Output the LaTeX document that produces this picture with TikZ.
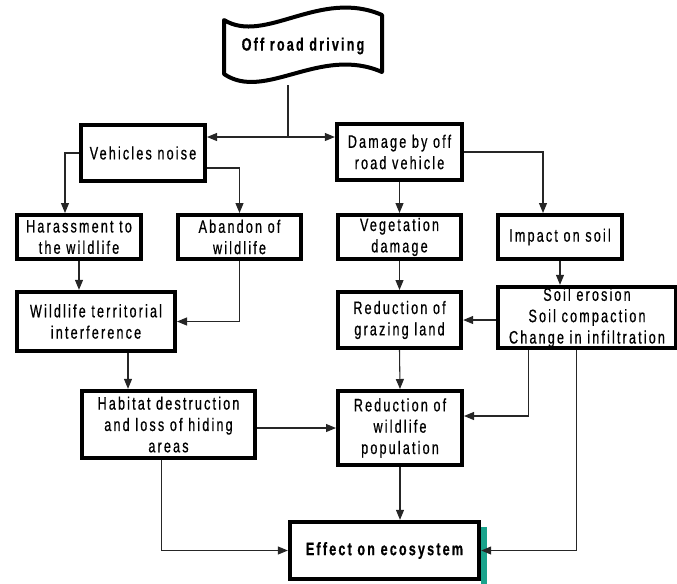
\documentclass[tikz,border=0pt]{standalone}
\usepackage{fontspec}
\setmainfont[FakeStretch=0.7,LetterSpace=12,FakeBold=0.6]{Liberation Sans}
\usepackage{xcolor}
\usepackage{tikz}
\usetikzlibrary{arrows.meta}

\definecolor{shadowteal}{HTML}{1AA38C}

\begin{document}
\begin{tikzpicture}[x=0.75pt,y=-0.75pt,
    box/.style={draw,line width=3pt,align=center,inner sep=0pt,
                font=\fontsize{13.5pt}{16pt}\selectfont},
    link/.style={black!85,line width=0.8pt}]
\useasboundingbox (0,0) rectangle (677,583);
\begin{scope}[>={Triangle[length=7.5pt,width=6pt]}]
    % starting flag
    \node[font=\fontsize{13.5pt}{16pt}\selectfont\bfseries] (drive) at (303,46) {Off road driving};
    \draw[line width=3pt,line join=round] (224,20) .. controls (265,45) and (320,-12) .. (382,15)
          -- (382,72) .. controls (320,45) and (265,102) .. (224,74) -- cycle;
    \coordinate (drivefoot) at (288,85);
    \coordinate (split) at (288,137);

    % boxes
    \node[box,minimum width=93pt,minimum height=42pt] (noise) at (143,153) {Vehicles noise};
    \node[box,minimum width=94pt,minimum height=42pt] (damage) at (399.5,152) {Damage by off\\road vehicle};
    \node[box,minimum width=93pt,minimum height=33pt] (harass) at (79,237) {Harassment to\\the wildlife};
    \node[box,minimum width=92.5pt,minimum height=33pt] (abandon) at (239.5,237) {Abandon of\\wildlife};
    \node[box,minimum width=92.5pt,minimum height=33pt] (veg) at (399.5,237) {Vegetation\\damage};
    \node[box,minimum width=93pt,minimum height=33pt] (impact) at (560,237) {Impact on soil};
    \node[box,minimum width=118.5pt,minimum height=44.5pt] (territ) at (96,321.5) {Wildlife territorial\\interference};
    \node[box,minimum width=92.5pt,minimum height=42pt] (grazing) at (399.5,320) {Reduction of\\grazing land};
    \node[box,minimum width=133pt,minimum height=46pt] (soil) at (587,317.5) {Soil erosion\\Soil compaction\\Change in infiltration};
    \node[box,minimum width=130pt,minimum height=50.5pt] (habitat) at (168.5,424.5) {Habitat destruction\\and loss of hiding\\areas};
    \node[box,minimum width=93pt,minimum height=55.5pt] (wildpop) at (400,428) {Reduction of\\wildlife\\population};
    \fill[shadowteal] (481,527) rectangle (487,585);
    \node[box,fill=white,font=\fontsize{13.5pt}{16pt}\selectfont\bfseries,minimum width=142pt,minimum height=43pt] (effect) at (384.5,550.5) {Effect on ecosystem};

    % connectors
    \draw[link] (drivefoot) -- (split);
    \draw[link,->] (split) -- (noise.east |- split);
    \draw[link,->] (split) -- (damage.west |- split);
    \draw[link,->] (noise.west) -| ([xshift=-10.5pt]harass.north);
    \draw[link,->] ([yshift=-11.25pt]noise.east) -| (abandon.north);
    \draw[link,->] (damage.east) -| ([xshift=-12.75pt]impact.north);
    \draw[link,->] (damage.south) -- (veg.north);
    \draw[link,->] (harass.south) -- (harass.south |- territ.north);
    \draw[link,->] (abandon.south) |- (territ.east);
    \draw[link,->] (veg.south) -- (grazing.north);
    \draw[link,->] (impact.south) -- (impact.south |- soil.north);
    \draw[link,->] (soil.west |- grazing.east) -- (grazing.east);
    \draw[link,->] ([xshift=24pt]territ.south) -- ([xshift=24pt]territ.south |- habitat.north);
    \draw[link,->] (grazing.south) -- (wildpop.north);
    \draw[link,->] (habitat.east |- wildpop.west) -- (wildpop.west);
    \draw[link,->] ([xshift=-44pt]soil.south) |- ([yshift=9pt]wildpop.east);
    \draw[link,->] ([xshift=-8pt]soil.south) |- (effect.east);
    \draw[link,->] (wildpop.south) -- (wildpop.south |- effect.north);
    \draw[link,->] ([xshift=-5.6pt]habitat.south) |- (effect.west);
\end{scope}
\end{tikzpicture}
\end{document}
